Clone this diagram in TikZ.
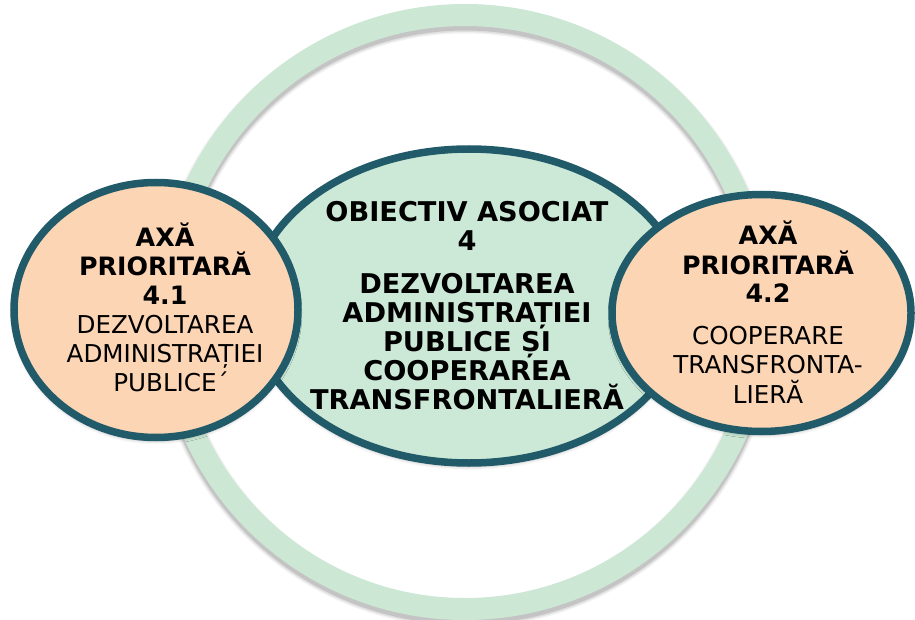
\documentclass[tikz,border=0pt]{standalone}
\usepackage{fontspec}
\setmainfont{DejaVu Sans}
\usetikzlibrary{shapes.geometric,shadows.blur}
\definecolor{ringgreen}{RGB}{204,232,213}
\definecolor{fillgreen}{RGB}{204,232,214}
\definecolor{bordercol}{RGB}{33,90,104}
\definecolor{peach}{RGB}{252,213,181}
\newcommand\txtblk[2]{\vtop{\baselineskip=#1\lineskiplimit=-\maxdimen\halign{\hfil##\hfil\cr#2\crcr}}}
\newcommand\regs{\fontsize{24.6}{29}\selectfont}
\begin{document}
\begin{tikzpicture}[x=1pt,y=-1pt,
  ringst/.style={circle, draw=ringgreen, line width=22pt, minimum size=594pt, inner sep=0pt},
  bubble/.style={ellipse, draw=bordercol, line width=7.5pt, inner sep=0pt,
    blur shadow={shadow xshift=0pt, shadow yshift=-3pt, shadow blur radius=4pt, shadow opacity=35}},
  txt/.style={anchor=base, inner sep=0pt, text=black}]
\useasboundingbox (0,0) rectangle (915,620);
\foreach \w/\o in {29/0.05,26/0.08,23/0.12}{
  \draw[black, opacity=\o, line width=\w pt] (465,316) circle[radius=297pt];}
\node[ringst] (ring) at (465,312) {};
\node[bubble, fill=fillgreen, minimum width=436pt, minimum height=314pt] (obj) at (469,306) {};
\node[bubble, fill=peach, minimum width=284pt, minimum height=255pt] (ax1) at (156,310) {};
\node[bubble, fill=peach, minimum width=299pt, minimum height=237pt] (ax2) at (761.5,313) {};
\node[txt, font=\bfseries\fontsize{27.2}{29}\selectfont] (t0) at (467,222)
  {\txtblk{29pt}{OBIECTIV ASOCIAT\cr 4\cr\noalign{\vskip14pt}DEZVOLTAREA\cr ADMINISTRAȚIEI\cr PUBLICE ȘI\cr COOPERAREA\cr TRANSFRONTALIERĂ\cr}};
\node[txt, font=\fontsize{25.3}{29}\selectfont] (t1) at (165,247)
  {\txtblk{29pt}{\bfseries AXĂ\cr\bfseries PRIORITARĂ\cr\bfseries 4.1\cr\regs DEZVOLTAREA\cr\regs ADMINISTRAȚIEI\cr\regs PUBLICE\rlap{´}\cr}};
\node[txt, font=\fontsize{25.3}{29}\selectfont] (t2) at (768,245)
  {\txtblk{29pt}{\bfseries AXĂ\cr\bfseries PRIORITARĂ\cr\bfseries 4.2\cr\noalign{\vskip13pt}\regs COOPERARE\cr\regs TRANSFRONTA-\cr\regs LIERĂ\cr}};
\end{tikzpicture}
\end{document}
